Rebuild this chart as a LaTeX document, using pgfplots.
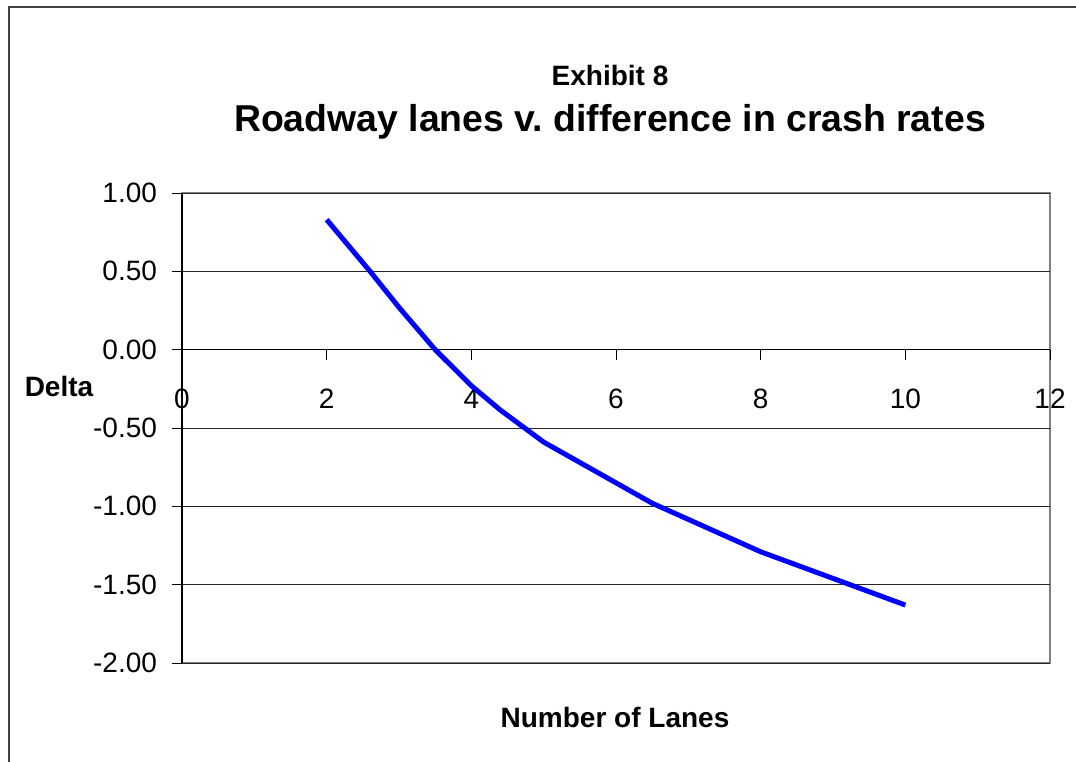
\documentclass[border=0pt]{standalone}
\usepackage{pgfplots}
\pgfplotsset{compat=1.18}
\usepackage{fontspec}
\setmainfont{Liberation Sans}
\frenchspacing
\begin{document}
\begin{tikzpicture}
\useasboundingbox (0,0) rectangle (538pt,-380.5pt);
\draw[black!75, line width=0.8pt] (4.5pt,-385pt) -- (4.5pt,-3.5pt) -- (545pt,-3.5pt);
\begin{axis}[
  at={(91pt,-331.5pt)}, anchor=south west,
  scale only axis, width=434pt, height=235pt,
  xmin=0, xmax=12, ymin=-2, ymax=1,
  axis x line=middle, axis y line=left,
  axis line style={black, line width=0.6pt, -},
  axis background/.style={draw=black!50, line width=1pt},
  xtick={0,2,...,12}, ytick={-2,-1.5,...,1},
  hide obscured x ticks=false, hide obscured y ticks=false,
  tick align=outside, major tick length=5pt,
  tick style={black, line width=0.5pt},
  ymajorgrids, grid style={black!85, line width=0.5pt},
  every tick label/.append style={font=\fontsize{14}{16}\selectfont},
  /pgf/number format/assume math mode=true,
  yticklabel={\pgfmathprintnumber[fixed, fixed zerofill, precision=2]{\tick}},
  yticklabel style={xshift=-4pt},
  xticklabel style={anchor=north, yshift=-11pt},
]
\addplot[blue, line width=2.5pt, line join=round] coordinates {
(2,0.83) (2.6,0.50) (3,0.27) (3.5,0.0) (4,-0.23) (4.4,-0.385) (5,-0.59) (6.5,-0.98) (8,-1.29) (10,-1.63)
};
\end{axis}
\node[font=\bfseries\fontsize{14}{16}\selectfont] at (305pt,-37.5pt) {Exhibit 8};
\node[font=\bfseries\fontsize{18.7}{22}\selectfont] at (305pt,-61pt) {Roadway lanes v. difference in crash rates};
\node[font=\bfseries\fontsize{14}{16}\selectfont] at (29.5pt,-193pt) {Delta};
\node[font=\bfseries\fontsize{14}{16}\selectfont] at (307.5pt,-358.5pt) {Number of Lanes};
\end{tikzpicture}
\end{document}
